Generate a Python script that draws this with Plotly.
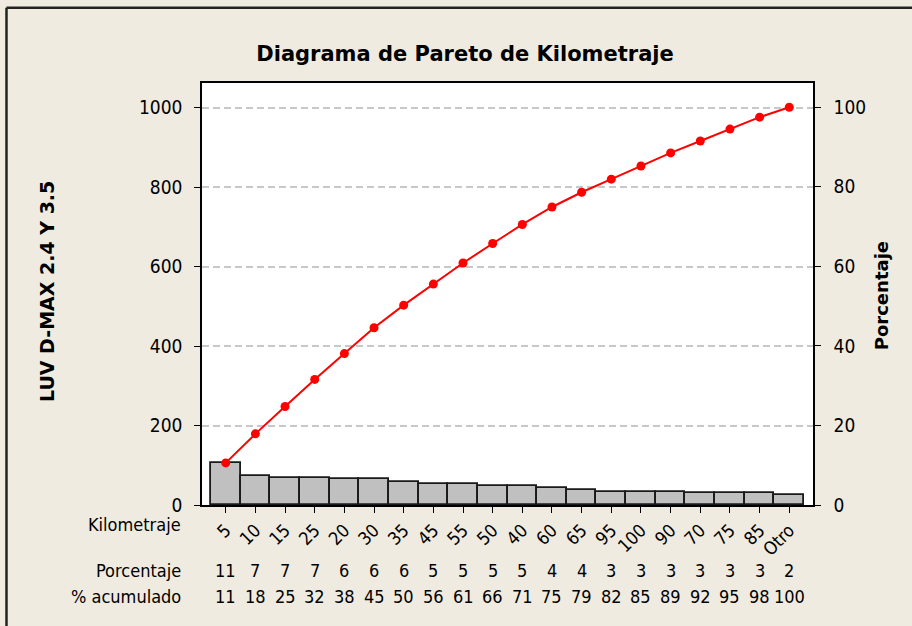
import numpy as np
from plotly import graph_objs

FIG_BG_COLOR = "#EFEBE0"
BAR_COLOR = "#C0C0C0"
LINE_COLOR = "#FF0000"
FONT = "DejaVu Sans Condensed, DejaVu Sans"
BOLD_FONT = "DejaVu Sans"

# Data
kilometraje = ["5", "10", "15", "25", "20", "30", "35", "45", "55", "50",
               "40", "60", "65", "95", "100", "90", "70", "75", "85", "Otro"]
conteo = [106, 73, 69, 68, 65, 65, 57, 53, 53, 49,
          48, 44, 37, 33, 33, 33, 30, 30, 30, 25]
porcentaje = [11, 7, 7, 7, 6, 6, 6, 5, 5, 5, 5, 4, 4, 3, 3, 3, 3, 3, 3, 2]
acumulado = [11, 18, 25, 32, 38, 45, 50, 56, 61, 66, 71, 75, 79, 82, 85, 89, 92, 95, 98, 100]

W, H = 912, 626
# plot box in pixels
PL, PR, PT, PB = 201.7, 813.3, 83.3, 505.5


def px_x(x):
    return (x - PL) / (PR - PL)


def px_y(y):
    return (PB - y) / (PB - PT)


total = sum(conteo)
cum_counts = np.cumsum(conteo)
y_top = 1062

fig = graph_objs.Figure()

fig.add_trace(graph_objs.Bar(x=kilometraje, y=conteo,
                             marker=dict(color=BAR_COLOR, line=dict(color="#1A1A1A", width=1.8)),
                             showlegend=False))

fig.add_trace(graph_objs.Scatter(x=kilometraje, y=cum_counts,
                                 mode="lines+markers",
                                 line=dict(color=LINE_COLOR, width=2),
                                 marker=dict(color=LINE_COLOR, size=9),
                                 showlegend=False))

# invisible trace to carry the percent axis
fig.add_trace(graph_objs.Scatter(x=[kilometraje[0]], y=[0], yaxis="y2",
                                 mode="markers", marker=dict(opacity=0),
                                 showlegend=False, hoverinfo="skip"))

tick_font = dict(family=FONT, size=19, color="black")
small_font = dict(family=FONT, size=18, color="black")

fig.update_layout(
    width=W, height=H,
    margin=dict(l=PL, r=W - PR, t=PT, b=H - PB, autoexpand=False),
    paper_bgcolor=FIG_BG_COLOR,
    plot_bgcolor="white",
    bargap=0,
    title=dict(text="<b>Diagrama de Pareto de Kilometraje</b>",
               x=465 / W, xanchor="center", xref="container",
               y=1 - 54 / H, yanchor="middle", yref="container",
               font=dict(family=BOLD_FONT, size=21, color="black")),
    xaxis=dict(type="category", range=[-0.8, 19.8],
               showline=True, linecolor="black", linewidth=1.5, mirror=True,
               ticks="outside", ticklen=6, tickcolor="black",
               tickangle=-45, tickfont=small_font, showgrid=False),
    yaxis=dict(range=[0, y_top], tickvals=[0, 200, 400, 600, 800, 1000],
               showline=True, linecolor="black", linewidth=1.5, mirror=True,
               ticks="outside", ticklen=6, tickcolor="black", tickfont=tick_font,
               showgrid=True, gridcolor="#C8C8C8", gridwidth=2, griddash="7px,4px",
               zeroline=False, ticklabelstandoff=8),
    yaxis2=dict(range=[0, y_top / total * 100], tickvals=[0, 20, 40, 60, 80, 100],
                overlaying="y", side="right", showgrid=False, zeroline=False,
                showline=True, linecolor="black", linewidth=1.5,
                ticks="outside", ticklen=6, tickcolor="black", tickfont=tick_font,
                ticklabelstandoff=9),
)

# axis titles
fig.add_annotation(text="<b>LUV D-MAX 2.4 Y 3.5</b>", textangle=-90,
                   x=px_x(46), y=px_y(292), xref="paper", yref="paper",
                   xanchor="center", yanchor="middle",
                   showarrow=False, font=dict(family=BOLD_FONT, size=19, color="black"))
fig.add_annotation(text="<b>Porcentaje</b>", textangle=-90,
                   x=px_x(882), y=px_y(296), xref="paper", yref="paper",
                   xanchor="center", yanchor="middle",
                   showarrow=False, font=dict(family=BOLD_FONT, size=18, color="black"))

# table row labels
for label, y in [("Kilometraje", 525), ("Porcentaje", 571), ("% acumulado", 597)]:
    fig.add_annotation(text=label, x=px_x(182), y=px_y(y), xref="paper", yref="paper",
                       xanchor="right", yanchor="middle", showarrow=False, font=small_font,
                       borderpad=0)

# table rows, one column per bar
for i, (p, c) in enumerate(zip(porcentaje, acumulado)):
    fig.add_annotation(text=str(p), x=i, y=px_y(571), xref="x", yref="paper",
                       yanchor="middle", showarrow=False, font=small_font)
    fig.add_annotation(text=str(c), x=i, y=px_y(597), xref="x", yref="paper",
                       yanchor="middle", showarrow=False, font=small_font)

# outer frame (top and left edges visible in the original)
fig.add_shape(type="line", xref="paper", yref="paper",
              x0=px_x(6), x1=px_x(W + 5), y0=px_y(8), y1=px_y(8),
              line=dict(color="#222222", width=2.5))
fig.add_shape(type="line", xref="paper", yref="paper",
              x0=px_x(6), x1=px_x(6), y0=px_y(8), y1=px_y(H + 5),
              line=dict(color="#222222", width=2.5))

fig.write_html("out.html", config={"displayModeBar": False},
               post_script="document.body.style.margin = '0';")
